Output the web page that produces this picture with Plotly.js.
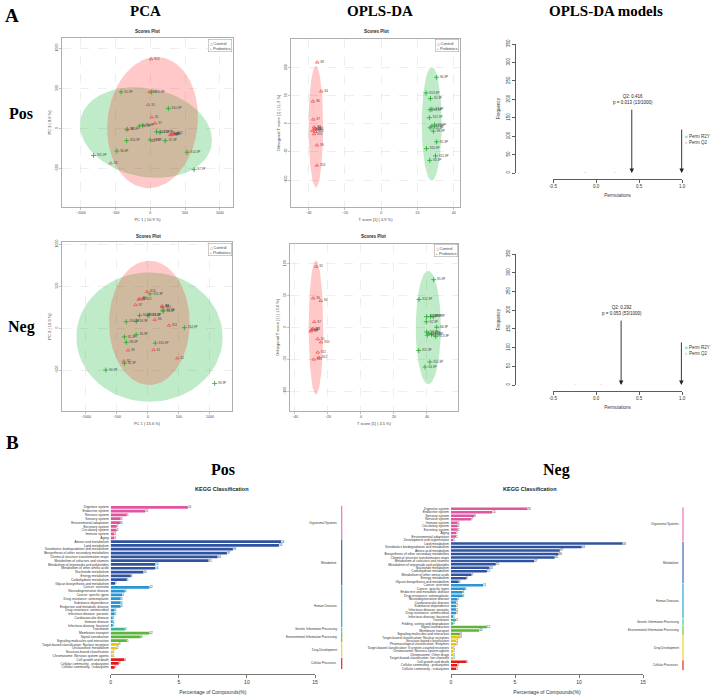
<!DOCTYPE html>
<html>
<head>
<meta charset="utf-8">
<script src="https://cdn.plot.ly/plotly-3.0.1.min.js"></script>
<style>html,body{margin:0;padding:0;background:#fff}#fig{width:719px;height:700px}</style>
</head>
<body>
<div id="fig"></div>
<script>
// ---------- PCA, positive mode ----------
const pcaPosCtrlX = [10, -10, -30, 20, 70, -330, 320, 345, 300, 330, 290, 40, -570];
const pcaPosCtrlY = [865, 455, 295, 140, 65, -10, -70, -55, -80, -65, -75, -150, -430];
const pcaPosCtrlLab = ["S13", "S4", "S1", "S5", "S7", "S6", "S11", "S12", "S2", "S3", "S10", "S9", "S8"];
const pcaPosProbX = [20, -420, 260, -335, -157, -110, 90, 140, 0, -340, 215, -480, 530, -815, 630];
const pcaPosProbY = [455, 455, 250, -10, 30, 40, -40, -50, -140, -150, -150, -280, -295, -335, -510];
const pcaPosProbLab = ["S11.3P", "S1.3P", "S10.3P", "S8.3P", "S3.3P", "S5.3P", "S12.3P", "S13.3P", "S9.3P", "S10.3P", "S2.3P", "S6.3P", "S14.3P", "S11.3P", "S7.3P"];
// ellipse: centre x, centre y, radius x, radius y, shear x, shear y
const pcaPosCtrlEll = [33, 74, 650, 815, 0.07, 0];
const pcaPosProbEll = [-62, -50, 950, 555, 0, -0.1];

// ---------- OPLS-DA, positive mode ----------
const oplsPosCtrlX = [-35.2, -33.0, -37.6, -37.4, -37, -36.5, -36.8, -37.8, -35.5, -36.2, -37, -35.4, -35.4];
const oplsPosCtrlY = [109.5, 58, 40, 8, -6, -8, -10, -12, -9, -14, -18, -38, -74];
const oplsPosCtrlLab = ["S8", "S4", "S6", "S7", "S3", "S1", "S5", "S12", "S2", "S11", "S10", "S9", "S13"];
const oplsPosProbX = [30.6, 24.8, 27.2, 27, 28, 26.6, 29.5, 28, 27, 28.8, 30.6, 25, 30, 26.8];
const oplsPosProbY = [83, 55, 45, 25, 26, 11, -2, -4, -7, -13, -32, -44, -57, -65];
const oplsPosProbLab = ["S6.3P", "S13.3P", "S2.3P", "S4.3P", "S3.3P", "S12.3P", "S5.3P", "S9.3P", "S14.3P", "S8.3P", "S1.3P", "S10.3P", "S11.3P", "S4.3P"];
const oplsPosCtrlEll = [-36, -5, 4, 108, 0, 0];
const oplsPosProbEll = [27.9, 0, 5.5, 101, 0, 0];

// ---------- permutation test, positive mode ----------
const permPosQ2X = [-0.13, 0.22];
const permPosQ2Y = [3, 2];
const permPosR2YX = [0.99];
const permPosR2YY = [0];
const posQ2 = 0.416, posQ2Text = "Q2: 0.416<br>p = 0.013 (13/1000)";
const posR2Y = 0.996, posR2YText = "R2Y: 0.996<br>p = 0.357 (357/1000)";

// ---------- PCA, negative mode ----------
const pcaNegCtrlX = [-16, -80, -150, -135, -200, 225, 230, 240, 108, 340, -323, 90, -390, 473];
const pcaNegCtrlY = [433, 345, 340, 350, 275, 260, 255, 250, 100, 30, -265, -260, -395, -360];
const pcaNegCtrlLab = ["S13", "S10", "S8", "S9", "S7", "S4", "S3", "S12", "S6", "S11", "S9", "S1", "S5", "S2"];
const pcaNegProbX = [32, 242, 245, -135, -5, 20, -350, -190, 587, -380, -190, -350, 118, -380, -680, 1075];
const pcaNegProbY = [405, 215, 200, 150, 150, 155, 75, 80, 4, -105, -80, -170, -180, -420, -500, -660];
const pcaNegProbLab = ["S11.3P", "S5.3P", "S8.3P", "S1.3P", "S12.3P", "S3.3P", "S10.3P", "S4.3P", "S14.3P", "S1.3P", "S6.3P", "S8.3P", "S10.3P", "S2.3P", "S6.3P", "S9.3P"];
const pcaNegCtrlEll = [22, 61, 650, 739, 0, 0];
const pcaNegProbEll = [24, -108, 1180, 770, 0, 0];

// ---------- OPLS-DA, negative mode ----------
const oplsNegCtrlX = [-27.1, -28.9, -24.4, -28.3, -29.3, -30.1, -30.5, -28.9, -26.2, -24.2, -26.2, -25.6, -28.7];
const oplsNegCtrlY = [95.7, 46, 42, 9, -2, -4, -6, -3, -18, -23, -39, -47, -50];
const oplsNegCtrlLab = ["S5", "S6", "S4", "S7", "S2", "S8", "S9", "S3", "S1", "S10", "S11", "S12", "S13"];
const oplsNegProbX = [44.1, 35.2, 39.8, 42.2, 43.8, 39.6, 45.9, 39.8, 41.2, 42.8, 40.2, 45.3, 35, 41.8, 38.8];
const oplsNegProbY = [75, 44, 17, 17, 17, 9, 0.5, -7, -9, -11, -12, -14, -36, -54, -62];
const oplsNegProbLab = ["S5.3P", "S12.3P", "S1.3P", "S9.3P", "S8.3P", "S2.3P", "S6.3P", "S3.3P", "S4.3P", "S7.3P", "S14.3P", "S13.3P", "S11.3P", "S10.3P", "S4.3P"];
const oplsNegCtrlEll = [-27.3, 0, 4.4, 105, 0, 0];
const oplsNegProbEll = [40.8, 0, 7.6, 89, 0, 0];

// ---------- permutation test, negative mode ----------
const permNegQ2X = [-0.53, -0.24, 0.06];
const permNegQ2Y = [2, 2, 2];
const permNegR2YX = [0.99];
const permNegR2YY = [0];
const negQ2 = 0.292, negQ2Text = "Q2: 0.292<br>p = 0.053 (53/1000)";
const negR2Y = 0.993, negR2YText = "R2Y: 0.993<br>p = 0.379 (379/1000)";

// ---------- KEGG classification ----------
const keggGroups = ["Organismal Systems", "Metabolism", "Human Diseases", "Genetic Information Processing",
  "Environmental Information Processing", "Drug Development", "Cellular Processes"];
const keggPosGroupSizes = [9, 12, 11, 1, 3, 4, 3];
const keggPosNames = ["Digestive system", "Endocrine system", "Nervous system", "Sensory system", "Environmental adaptation",
  "Excretory system", "Circulatory system", "Immune system", "Aging",
  "Amino acid metabolism", "Lipid metabolism", "Xenobiotics biodegradation and metabolism",
  "Biosynthesis of other secondary metabolites", "Chemical structure transformation maps",
  "Metabolism of cofactors and vitamins", "Metabolism of terpenoids and polyketides", "Metabolism of other amino acids",
  "Nucleotide metabolism", "Energy metabolism", "Carbohydrate metabolism", "Glycan biosynthesis and metabolism",
  "Cancer: overview", "Neurodegenerative disease", "Cancer: specific types", "Drug resistance: antineoplastic",
  "Substance dependence", "Endocrine and metabolic disease", "Drug resistance: antimicrobial",
  "Infectious disease: parasitic", "Cardiovascular disease", "Immune disease", "Infectious disease: bacterial",
  "Translation",
  "Membrane transport", "Signal transduction", "Signaling molecules and interaction",
  "Target-based classification: Nuclear receptors", "Unclassified: metabolism", "Structure-based classification",
  "Chromosome: Nervous system agents",
  "Cell growth and death", "Cellular community - prokaryotes", "Cellular community - eukaryotes"];
const keggPosPct = [5.66, 2.52, 1.18, 0.73, 0.73, 0.44, 0.44, 0.27, 0.27,
  12.5, 12.35, 8.97, 8.53, 7.84, 7.18, 3.26, 3.26, 2.4, 1.47, 1.18, 0.32,
  2.84, 1.03, 0.83, 0.73, 0.73, 0.73, 0.29, 0.29, 0.15, 0.15, 0.15,
  1.03,
  2.84, 2.2, 1.18,
  0.59, 0.44, 0.15, 0.15,
  1.0, 0.59, 0.29];
const keggPosCount = [24, 11, 5, 3, 3, 2, 2, 1, 1,
  54, 53, 39, 37, 34, 31, 14, 14, 10, 6, 5, 1,
  12, 4, 4, 3, 3, 3, 1, 1, 1, 1, 1,
  4,
  12, 9, 5,
  3, 2, 1, 1,
  4, 3, 1];

const keggNegGroupSizes = [10, 12, 10, 2, 3, 7, 3];
const keggNegNames = ["Digestive system", "Endocrine system", "Sensory system", "Nervous system", "Immune system",
  "Circulatory system", "Excretory system", "Aging", "Environmental adaptation", "Development and regeneration",
  "Lipid metabolism", "Xenobiotics biodegradation and metabolism", "Amino acid metabolism",
  "Biosynthesis of other secondary metabolites", "Chemical structure transformation maps",
  "Metabolism of cofactors and vitamins", "Metabolism of terpenoids and polyketides", "Nucleotide metabolism",
  "Carbohydrate metabolism", "Metabolism of other amino acids", "Energy metabolism", "Glycan biosynthesis and metabolism",
  "Cancer: overview", "Cancer: specific types", "Endocrine and metabolic disease", "Drug resistance: antineoplastic",
  "Neurodegenerative disease", "Cardiovascular disease", "Substance dependence", "Infectious disease: parasitic",
  "Drug resistance: antimicrobial", "Infectious disease: bacterial",
  "Translation", "Folding, sorting and degradation",
  "Signal transduction", "Membrane transport", "Signaling molecules and interaction",
  "Target-based classification: Nuclear receptors", "Structure-based classification",
  "Pharmacological classification: Enzymes", "Target-based classification: G protein-coupled receptors",
  "Chromosome: Nervous system agents", "Chromosome: Other drugs", "Target-based classification: Ion channels",
  "Cell growth and death", "Cellular community - prokaryotes", "Cellular community - eukaryotes"];
const keggNegPct = [5.96, 3.2, 1.8, 1.59, 0.52, 0.52, 0.52, 0.39, 0.39, 0.18,
  13.4, 10.2, 8.5, 8.4, 8.1, 6.5, 3.5, 3.0, 2.8, 1.6, 1.2, 0.6,
  2.5, 1.1, 0.9, 0.9, 0.5, 0.4, 0.4, 0.4, 0.4, 0.18,
  0.4, 0.18,
  2.8, 2.2, 0.7,
  0.7, 0.4, 0.4, 0.18, 0.18, 0.18, 0.18,
  1.2, 0.5, 0.4];
const keggNegCount = [26, 14, 8, 7, 2, 2, 2, 2, 2, 1,
  58, 44, 37, 36, 35, 27, 15, 13, 12, 7, 5, 3,
  11, 5, 4, 4, 2, 2, 2, 2, 2, 1,
  2, 1,
  12, 10, 3,
  3, 2, 2, 1, 1, 1, 1,
  5, 2, 2];

// ---------- styling ----------
const W = 719, H = 700;
const RED = "#F04848", GREEN = "#1FAA2A";
const RED_FILL = "rgba(255,40,40,0.25)", GREEN_FILL = "rgba(0,175,40,0.25)";
const GROUP_COLORS = ["#E0559F", "#2F539F", "#2A95D2", "#3DB88C", "#5FB43A", "#E9C40E", "#E31A1C"];
const GROUP_LINES = ["#E976B4", "#4563AC", "#2FA3DC", "#45C69C", "#6CC34A", "#F5D31C", "#EE2222"];
const SANS = "Liberation Sans, Arial, sans-serif";
const SERIF = "Liberation Serif, Times New Roman, serif";

const px = v => v / W;
const py = v => 1 - v / H;

function ellipse(e, fill, xa, ya) {
  const [cx, cy, rx, ry, shx, shy] = e;
  const xs = [], ys = [];
  for (let i = 0; i <= 80; i++) {
    const t = 2 * Math.PI * i / 80;
    const c = Math.cos(t), s = Math.sin(t);
    xs.push(cx + rx * c + shx * ry * s);
    ys.push(cy + ry * s + shy * rx * c);
  }
  return { type: "scatter", mode: "lines", x: xs, y: ys, fill: "toself", fillcolor: fill,
    line: { width: 0 }, xaxis: xa, yaxis: ya, showlegend: false, hoverinfo: "skip" };
}

function points(x, y, lab, ctrl, xa, ya) {
  return { type: "scatter", mode: "markers+text", x, y, text: lab, textposition: "middle right",
    textfont: { size: 3, color: "#444", family: SANS }, xaxis: xa, yaxis: ya, showlegend: false,
    hoverinfo: "skip", cliponaxis: false,
    marker: ctrl
      ? { symbol: "triangle-up-open", size: 3.2, color: RED, line: { width: 0.7, color: RED } }
      : { symbol: "cross-thin", size: 3.6, color: GREEN, line: { width: 0.8, color: GREEN } } };
}

function permBars(x, y, col, xa, ya) {
  return { type: "bar", x, y, width: 0.03, marker: { color: col }, xaxis: xa, yaxis: ya,
    showlegend: false, hoverinfo: "skip", cliponaxis: false };
}

function keggBars(names, pct, cnt, sizes, xa, ya) {
  const colors = [];
  sizes.forEach((n, i) => { for (let k = 0; k < n; k++) colors.push(GROUP_COLORS[i]); });
  return { type: "bar", orientation: "h", x: pct, y: names, xaxis: xa, yaxis: ya, width: 0.72,
    marker: { color: colors }, text: cnt.map(String), textposition: "outside", constraintext: "none",
    textfont: { size: 3, color: "#333", family: SANS }, cliponaxis: false, showlegend: false, hoverinfo: "skip" };
}

const traces = [
  ellipse(pcaPosProbEll, GREEN_FILL, "x", "y"),
  ellipse(pcaPosCtrlEll, RED_FILL, "x", "y"),
  points(pcaPosCtrlX, pcaPosCtrlY, pcaPosCtrlLab, true, "x", "y"),
  points(pcaPosProbX, pcaPosProbY, pcaPosProbLab, false, "x", "y"),

  ellipse(oplsPosCtrlEll, RED_FILL, "x2", "y2"),
  ellipse(oplsPosProbEll, GREEN_FILL, "x2", "y2"),
  points(oplsPosCtrlX, oplsPosCtrlY, oplsPosCtrlLab, true, "x2", "y2"),
  points(oplsPosProbX, oplsPosProbY, oplsPosProbLab, false, "x2", "y2"),

  permBars(permPosQ2X, permPosQ2Y, "rgba(255,190,200,0.6)", "x3", "y3"),
  permBars(permPosR2YX, permPosR2YY, "rgba(140,210,235,0.6)", "x3", "y3"),

  ellipse(pcaNegProbEll, GREEN_FILL, "x4", "y4"),
  ellipse(pcaNegCtrlEll, RED_FILL, "x4", "y4"),
  points(pcaNegCtrlX, pcaNegCtrlY, pcaNegCtrlLab, true, "x4", "y4"),
  points(pcaNegProbX, pcaNegProbY, pcaNegProbLab, false, "x4", "y4"),

  ellipse(oplsNegCtrlEll, RED_FILL, "x5", "y5"),
  ellipse(oplsNegProbEll, GREEN_FILL, "x5", "y5"),
  points(oplsNegCtrlX, oplsNegCtrlY, oplsNegCtrlLab, true, "x5", "y5"),
  points(oplsNegProbX, oplsNegProbY, oplsNegProbLab, false, "x5", "y5"),

  permBars(permNegQ2X, permNegQ2Y, "rgba(255,190,200,0.6)", "x6", "y6"),
  permBars(permNegR2YX, permNegR2YY, "rgba(140,210,235,0.6)", "x6", "y6"),

  keggBars(keggPosNames, keggPosPct, keggPosCount, keggPosGroupSizes, "x7", "y7"),
  keggBars(keggNegNames, keggNegPct, keggNegCount, keggNegGroupSizes, "x8", "y8")
];

// ---- axes ----
const scoreAx = {
  showline: true, mirror: true, linecolor: "#9a9a9a", linewidth: 0.8,
  ticks: "outside", ticklen: 2, tickcolor: "#9a9a9a", tickwidth: 0.6,
  tickfont: { size: 3.5, color: "#444", family: SANS },
  showgrid: true, gridcolor: "#e3e3e3", gridwidth: 0.6, griddash: "dash",
  zeroline: false, automargin: false
};
const sx = (dom, range, tv, title, anchor) => Object.assign({}, scoreAx, {
  domain: dom, range, tickvals: tv, anchor,
  title: { text: title, font: { size: 4, color: "#444", family: SANS }, standoff: 4 } });
const sy = (dom, range, tv, title, anchor) => Object.assign({}, scoreAx, {
  domain: dom, range, tickvals: tv, anchor, tickangle: -90,
  title: { text: title, font: { size: 4, color: "#444", family: SANS }, standoff: 3 } });

const permX = (ypos) => ({
  domain: [px(553), px(682)], range: [-0.5, 1.0], anchor: "free", position: py(ypos),
  tickvals: [-0.5, 0, 0.5, 1], ticktext: ["-0.5", "0.0", "0.5", "1.0"],
  showline: true, linecolor: "#333", linewidth: 0.8, ticks: "outside", ticklen: 3, tickcolor: "#333", tickwidth: 0.8,
  tickfont: { size: 4.5, color: "#333", family: SANS }, showgrid: false, zeroline: false, automargin: false,
  title: { text: "Permutations", font: { size: 4.5, color: "#333", family: SANS }, standoff: 5 }
});
const permY = (top, bot) => ({
  domain: [py(bot), py(top)], range: [0, 350], anchor: "free", position: px(515),
  tickvals: [0, 50, 100, 150, 200, 250, 300, 350], tickangle: -90,
  showline: true, linecolor: "#333", linewidth: 0.8, ticks: "outside", ticklen: 3, tickcolor: "#333", tickwidth: 0.8,
  tickfont: { size: 4.5, color: "#333", family: SANS }, showgrid: false, zeroline: false, automargin: false,
  title: { text: "Frequency", font: { size: 4.5, color: "#333", family: SANS }, standoff: 4 }
});
const keggX = (l, r) => ({
  domain: [px(l), px(r)], range: [0, 15], anchor: "free", position: py(674),
  tickvals: [0, 5, 10, 15], showline: true, linecolor: "#555", linewidth: 0.8,
  ticks: "outside", ticklen: 3, tickcolor: "#555", tickwidth: 0.8,
  tickfont: { size: 5, color: "#333", family: SANS }, showgrid: false, zeroline: false, automargin: false,
  title: { text: "Percentage of Compounds(%)", font: { size: 5, color: "#333", family: SANS }, standoff: 6 }
});
const keggY = (top, bot, names, anchor) => ({
  domain: [py(bot), py(top)], type: "category", range: [names.length - 0.5, -0.5], anchor,
  tickmode: "array", tickvals: names, ticktext: names,
  showline: false, ticks: "", showgrid: false, zeroline: false, automargin: false,
  tickfont: { size: 3.3, color: "#333", family: SANS }, ticklabelstandoff: 1
});

// ---- annotations / shapes ----
const ann = [];
const shapes = [];
const txt = (text, x, y, size, opt) => ann.push(Object.assign({
  text, x: px(x), y: py(y), xref: "paper", yref: "paper", xanchor: "center", yanchor: "middle",
  showarrow: false, font: { size, color: "#000", family: SERIF }
}, opt || {}));

txt("<b>A</b>", 12, 15, 19);
txt("<b>B</b>", 12, 442, 19);
txt("<b>PCA</b>", 145, 11, 15);
txt("<b>OPLS-DA</b>", 380, 11, 15);
txt("<b>OPLS-DA models</b>", 606, 11, 15);
txt("<b>Pos</b>", 21, 113, 16);
txt("<b>Neg</b>", 21, 327, 16);
txt("<b>Pos</b>", 223, 470, 16);
txt("<b>Neg</b>", 556, 470, 16);

const sansBold = (text, x, y, size) => txt("<b>" + text + "</b>", x, y, size, { font: { size, color: "#222", family: SANS } });
sansBold("Scores Plot", 147, 32, 4.5);
sansBold("Scores Plot", 377, 32, 4.5);
sansBold("Scores Plot", 148, 236, 4.5);
sansBold("Scores Plot", 373, 237, 4.5);
sansBold("KEGG Classification", 222, 489, 5.5);
sansBold("KEGG Classification", 530, 489, 5.5);

const scoreLegend = '<span style="color:' + RED + '">\u25B3</span> Control<br><span style="color:' + GREEN + '">+</span> Probiotics';
[[232, 39], [459, 39], [232, 243], [458, 244]].forEach(([x, y]) => ann.push({
  text: scoreLegend, x: px(x), y: py(y), xref: "paper", yref: "paper", xanchor: "right", yanchor: "top",
  showarrow: false, align: "left", bgcolor: "#fff", bordercolor: "#999", borderwidth: 0.5, borderpad: 1,
  font: { size: 4, color: "#444", family: SANS }
}));

const permLegend = '<span style="color:#8FD3E8">\u25A0</span> Perm R2Y<br><span style="color:#FFD2D6">\u25A0</span> Perm Q2';
[[683, 132], [683, 343]].forEach(([x, y]) => ann.push({
  text: permLegend, x: px(x), y: py(y), xref: "paper", yref: "paper", xanchor: "left", yanchor: "top",
  showarrow: false, align: "left", font: { size: 4.5, color: "#333", family: SANS }
}));

function permArrow(xv, top, label, xa, ya) {
  ann.push({ text: "", x: xv, y: 0, xref: xa, yref: ya, ax: xv, ay: top, axref: xa, ayref: ya,
    showarrow: true, arrowhead: 2, arrowsize: 1, arrowwidth: 0.9, arrowcolor: "#222", standoff: 0 });
  ann.push({ text: label, x: xv + 0.01, y: top + 2, xref: xa, yref: ya, showarrow: false,
    xanchor: "center", yanchor: "bottom", align: "center", font: { size: 4.5, color: "#222", family: SANS } });
}
permArrow(posQ2, 176, posQ2Text, "x3", "y3");
permArrow(posR2Y, 122, posR2YText, "x3", "y3");
permArrow(negQ2, 176, negQ2Text, "x6", "y6");
permArrow(negR2Y, 118, negR2YText, "x6", "y6");

function groupStrips(sizes, lineX, ya) {
  let start = 0;
  sizes.forEach((n, i) => {
    const end = start + n - 1;
    shapes.push({ type: "line", xref: "paper", yref: ya, x0: px(lineX), x1: px(lineX),
      y0: start - 0.45, y1: end + 0.45, line: { color: GROUP_LINES[i], width: 1.2 } });
    ann.push({ text: keggGroups[i], xref: "paper", yref: ya, x: px(lineX - 2.5), y: (start + end) / 2,
      xanchor: "right", showarrow: false, font: { size: 3, color: "#333", family: SANS } });
    start += n;
  });
}
groupStrips(keggPosGroupSizes, 341.7, "y7");
groupStrips(keggNegGroupSizes, 683, "y8");

const layout = {
  width: W, height: H, margin: { l: 0, r: 0, t: 0, b: 0 },
  paper_bgcolor: "#fff", plot_bgcolor: "#fff", showlegend: false, barmode: "overlay",
  font: { family: SANS },
  xaxis: sx([px(62), px(233)], [-1270, 1190], [-1000, -500, 0, 500, 1000], "PC 1 ( 10.9 %)", "y"),
  yaxis: sy([py(207), py(38)], [-975, 1125], [-500, 0, 500, 1000], "PC 2 ( 8.9 %)", "x"),
  xaxis2: sx([px(291), px(460)], [-49.7, 43.5], [-40, -20, 0, 20, 40], "T score [1] ( 4.9 %)", "y2"),
  yaxis2: sy([py(207), py(39)], [-148, 151], [-100, -50, 0, 50, 100], "Orthogonal T score [1] ( 11.3 %)", "x2"),
  xaxis3: permX(179),
  yaxis3: permY(44, 173),
  xaxis4: sx([px(62), px(232)], [-1387, 1355], [-1000, -500, 0, 500, 1000], "PC 1 ( 13.6 %)", "y4"),
  yaxis4: sy([py(411), py(242)], [-988, 1024], [-500, 0, 500, 1000], "PC 2 ( 10.9 %)", "x4"),
  xaxis5: sx([px(290), px(458)], [-43, 58.8], [-40, -20, 0, 20, 40], "T score [1] ( 4.5 %)", "y5"),
  yaxis5: sy([py(411), py(244)], [-131, 131], [-100, -50, 0, 50, 100], "Orthogonal T score [1] ( 13.6 %)", "x5"),
  xaxis6: permX(391),
  yaxis6: permY(254, 385),
  xaxis7: keggX(110.7, 315),
  yaxis7: keggY(505.4, 669.2, keggPosNames, "x7"),
  xaxis8: keggX(451, 643),
  yaxis8: keggY(507, 670.4, keggNegNames, "x8"),
  annotations: ann,
  shapes: shapes
};

Plotly.newPlot("fig", traces, layout, { staticPlot: true, displayModeBar: false });
</script>
</body>
</html>
